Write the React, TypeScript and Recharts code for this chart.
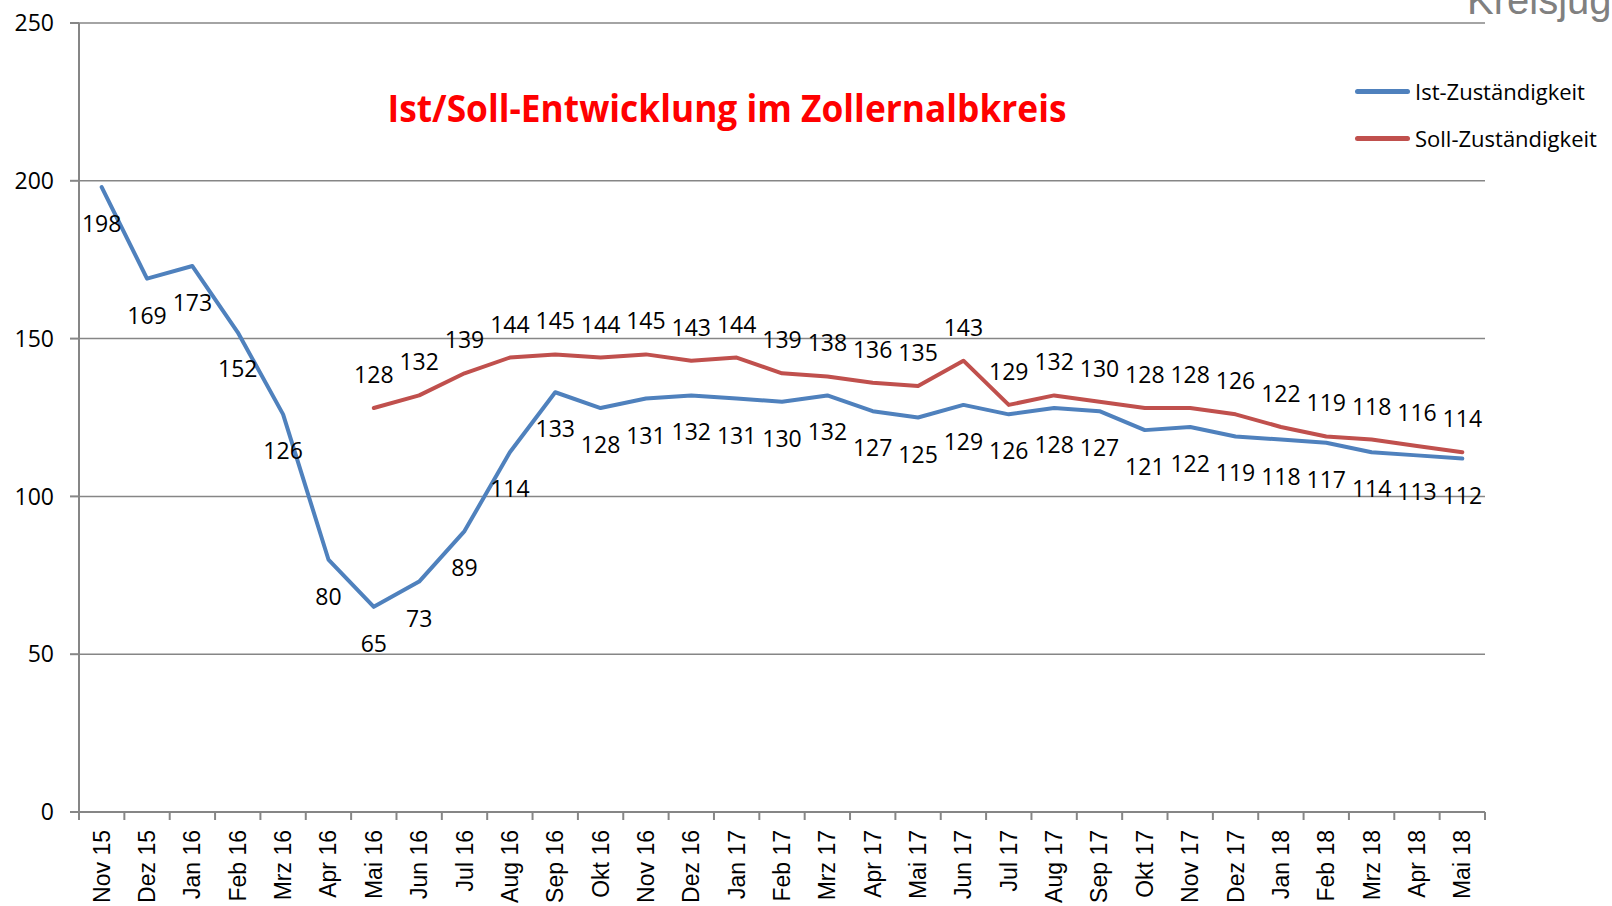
import React from 'react';
import { LineChart, Line, XAxis, YAxis, CartesianGrid, LabelList, Legend } from 'recharts';

const months = ['Nov 15', 'Dez 15', 'Jan 16', 'Feb 16', 'Mrz 16', 'Apr 16', 'Mai 16', 'Jun 16', 'Jul 16', 'Aug 16', 'Sep 16', 'Okt 16', 'Nov 16', 'Dez 16', 'Jan 17', 'Feb 17', 'Mrz 17', 'Apr 17', 'Mai 17', 'Jun 17', 'Jul 17', 'Aug 17', 'Sep 17', 'Okt 17', 'Nov 17', 'Dez 17', 'Jan 18', 'Feb 18', 'Mrz 18', 'Apr 18', 'Mai 18'];
const istValues = [198, 169, 173, 152, 126, 80, 65, 73, 89, 114, 133, 128, 131, 132, 131, 130, 132, 127, 125, 129, 126, 128, 127, 121, 122, 119, 118, 117, 114, 113, 112];
const sollValues = [null, null, null, null, null, null, 128, 132, 139, 144, 145, 144, 145, 143, 144, 139, 138, 136, 135, 143, 129, 132, 130, 128, 128, 126, 122, 119, 118, 116, 114];
const yTicks = [0, 50, 100, 150, 200, 250];

const istName = 'Ist-Zuständigkeit';
const sollName = 'Soll-Zuständigkeit';
const titleText = 'Ist/Soll-Entwicklung im Zollernalbkreis';
const headerText = 'Kreisjugendamt';

const data = months.map((m, i) => ({ month: m, ist: istValues[i], soll: sollValues[i] }));

const BLUE = '#4F81BD';
const RED = '#C0504D';
const AXIS = '#868686';
const LABEL_FONT = '"Open Sans", sans-serif';

const PLOT_WIDTH = 1406;
const HALF_BAND = PLOT_WIDTH / months.length / 2;

const makeLabel = (dy: number) => (props: any) => {
  const vb = props.viewBox || {};
  const x = props.x ?? vb.x;
  const y = props.y ?? vb.y;
  const value = props.value;
  if (value === null || value === undefined || x === undefined || y === undefined) return null;
  return (
    <text x={x} y={y + dy} textAnchor="middle" dominantBaseline="central" fontFamily={LABEL_FONT} fontSize={23} fill="#000">
      {value}
    </text>
  );
};

const BelowLabel = makeLabel(36);
const AboveLabel = makeLabel(-34);

const XTick = (props: any) => {
  const { x, y, payload, index } = props;
  const half = HALF_BAND;
  return (
    <g>
      <line x1={x - half} y1={y} x2={x - half} y2={y + 8} stroke={AXIS} strokeWidth={2} />
      {index === months.length - 1 && (
        <line x1={x + half} y1={y} x2={x + half} y2={y + 8} stroke={AXIS} strokeWidth={2} />
      )}
      <text
        transform={`translate(${x},${y + 18}) rotate(-90)`}
        textAnchor="end"
        dominantBaseline="central"
        fontFamily='"Liberation Sans", Arial, sans-serif'
        fontSize={23}
        fill="#000"
      >
        {payload.value}
      </text>
    </g>
  );
};

const renderLegend = (props: any) => {
  const payload = props.payload || [];
  return (
    <div style={{ position: 'absolute', left: 0, top: 0 }}>
      {payload.map((p: any, i: number) => (
        <div
          key={i}
          style={{
            position: 'absolute',
            left: 0,
            top: i * 47,
            height: 30,
            display: 'flex',
            alignItems: 'center',
            whiteSpace: 'nowrap',
          }}
        >
          <span style={{ display: 'inline-block', width: 55, height: 5, background: p.color, borderRadius: 3 }} />
          <span style={{ marginLeft: 5, fontFamily: LABEL_FONT, fontSize: 22, color: '#000' }}>{p.value}</span>
        </div>
      ))}
    </div>
  );
};

export default function App() {
  return (
    <div style={{ position: 'absolute', left: 0, top: 0, width: 1612, height: 906, overflow: 'hidden', background: '#fff' }}>
      <LineChart width={1612} height={906} data={data} margin={{ top: 23, right: 127, bottom: 0, left: 0 }}>
        <CartesianGrid vertical={false} stroke={AXIS} strokeWidth={1.5} />
        <XAxis
          dataKey="month"
          interval={0}
          height={94}
          padding={{ left: HALF_BAND, right: HALF_BAND }}
          tickLine={false}
          tickSize={0}
          tickMargin={0}
          axisLine={{ stroke: AXIS, strokeWidth: 2 }}
          tick={<XTick />}
        />
        <YAxis
          domain={[0, 250]}
          ticks={yTicks}
          interval={0}
          width={79}
          tickSize={9}
          tickMargin={16}
          tickLine={{ stroke: AXIS, strokeWidth: 2 }}
          axisLine={{ stroke: AXIS, strokeWidth: 2 }}
          tick={{ fontFamily: LABEL_FONT, fontSize: 23, fill: '#000' }}
        />
        <Legend
          layout="vertical"
          verticalAlign="top"
          align="right"
          wrapperStyle={{ left: 1355, top: 76 }}
          content={renderLegend}
        />
        <Line
          type="linear"
          dataKey="ist"
          name={istName}
          stroke={BLUE}
          strokeWidth={4}
          strokeLinejoin="round"
          strokeLinecap="round"
          dot={false}
          activeDot={false}
          isAnimationActive={false}
        >
          <LabelList dataKey="ist" content={BelowLabel} />
        </Line>
        <Line
          type="linear"
          dataKey="soll"
          name={sollName}
          stroke={RED}
          strokeWidth={4}
          strokeLinejoin="round"
          strokeLinecap="round"
          dot={false}
          activeDot={false}
          isAnimationActive={false}
        >
          <LabelList dataKey="soll" content={AboveLabel} />
        </Line>
      </LineChart>
      <svg width={1612} height={906} style={{ position: 'absolute', left: 0, top: 0, pointerEvents: 'none' }}>
        <text
          x={727}
          y={107}
          textAnchor="middle"
          dominantBaseline="central"
          fontFamily={LABEL_FONT}
          fontWeight="bold"
          fontSize={38}
          fill="#FF0000"
          textLength={679}
          lengthAdjust="spacingAndGlyphs"
        >
          {titleText}
        </text>
        <text x={1467} y={14} fontFamily='"Liberation Sans", Arial, sans-serif' fontSize={40} fill="#808080">
          {headerText}
        </text>
      </svg>
    </div>
  );
}
